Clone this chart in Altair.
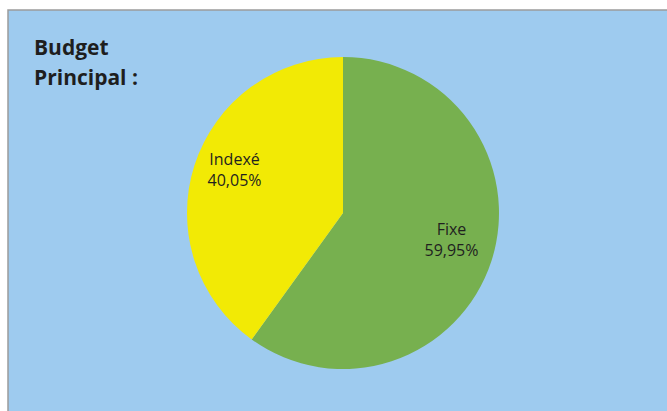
import altair as alt
import pandas as pd

categories = ["Fixe", "Indexé"]
values = [59.95, 40.05]
pct_labels = ["59,95%", "40,05%"]
colors = ["#77B04F", "#F2EA05"]
title_lines = ["Budget", "Principal :"]

df = pd.DataFrame({
    "cat": categories,
    "value": values,
    "order": list(range(len(categories))),
    "label": [f"{c}\n{p}" for c, p in zip(categories, pct_labels)],
})

W, H = 667, 411
CX, CY = 343, 213

bg = alt.Chart(pd.DataFrame({"a": [0]})).mark_rect(
    fill="#9ECBEF", stroke="#9C9C9C", strokeWidth=1.5
).encode(
    x=alt.value(8), x2=alt.value(W + 5), y=alt.value(10), y2=alt.value(H + 5)
)

base = alt.Chart(df).encode(
    theta=alt.Theta("value:Q", stack=True),
    order=alt.Order("order:Q"),
    x=alt.value(CX),
    y=alt.value(CY),
)

pie = base.mark_arc(outerRadius=156, strokeWidth=0).encode(
    color=alt.Color("cat:N", scale=alt.Scale(domain=categories, range=colors), legend=None)
)

labels = base.mark_text(
    radius=114, font="Open Sans", fontSize=16, color="#1F1F1F",
    lineBreak="\n", lineHeight=21, align="center", baseline="middle", dy=-18
).encode(text="label:N")

title_df = pd.DataFrame({"t": title_lines, "i": [0, 1]})
title = alt.Chart(title_df).mark_text(
    font="Open Sans", fontWeight="bold", fontSize=21, color="#1E1E1E",
    align="left", baseline="alphabetic"
).encode(
    text="t:N",
    x=alt.value(34),
    y=alt.Y("i:Q", scale=alt.Scale(domain=[0, 1], range=[55, 85]), axis=None),
)

chart = alt.layer(bg, pie, labels, title).properties(
    width=W, height=H, padding=0, autosize=alt.AutoSizeParams(type="none"),
    background="#FFFFFF"
).configure_view(stroke=None)

chart.save("out.html", embed_options={"renderer": "svg", "actions": False})
